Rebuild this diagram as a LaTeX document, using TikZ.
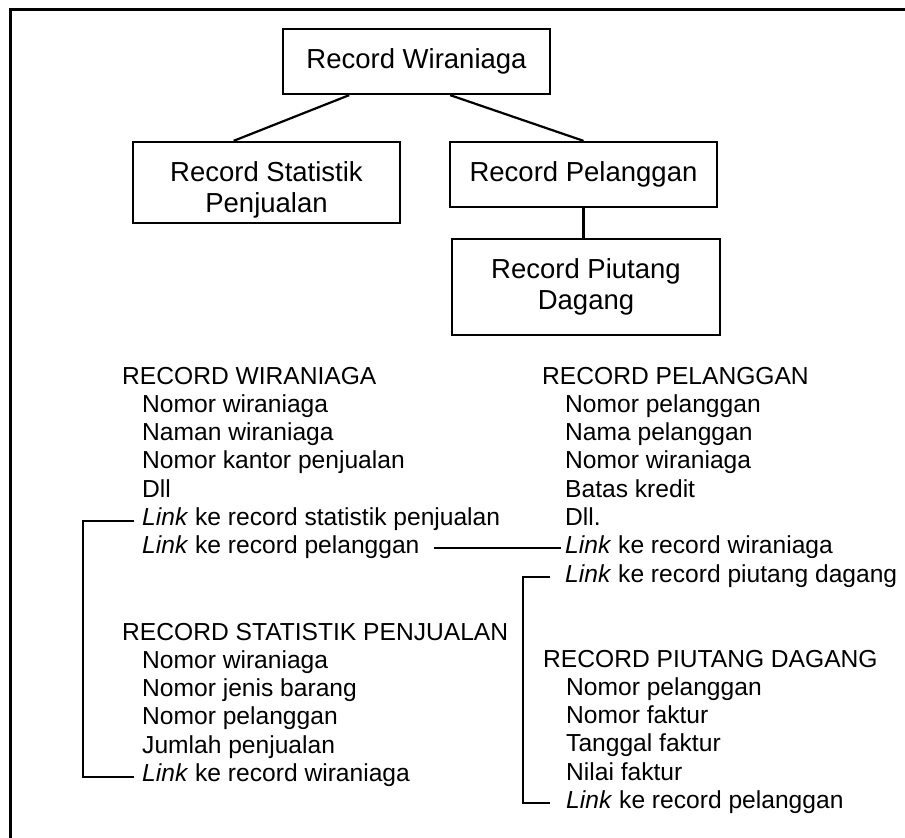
\documentclass[tikz,border=0pt]{standalone}
\usepackage{fontspec}
\setmainfont{Liberation Sans}
\usetikzlibrary{calc}
\begin{document}
\begin{tikzpicture}[x=1pt,y=-1pt,
  box/.style={draw, line width=2.3pt, inner sep=0pt, align=center,
    font=\fontsize{27.5}{31}\selectfont},
  tree/.style={line width=2.2pt},
  field/.style={anchor=base west, inner sep=0pt,
    font=\fontsize{24.6}{28}\selectfont},
  link/.style={line width=2.2pt}]
\useasboundingbox (0,0) rectangle (905,838);
% outer frame
\draw[line width=3pt] (10.5,838) -- (10.5,9.5) -- (905,9.5);

% hierarchy of records
\node[box, minimum width=267pt, minimum height=65pt] (rw) at (416.5,61.5) {Record Wiraniaga};
\node[box, minimum width=267pt, minimum height=81pt] (rs) at (266.5,182.5) {\rule{0pt}{34pt}Record Statistik\\Penjualan};
\node[box, minimum width=267pt, minimum height=65pt] (rp) at (583.5,174.5) {Record Pelanggan};
\node[box, minimum width=268pt, minimum height=96pt] (rd) at (586,287) {Record Piutang\\Dagang};

\draw[tree] ($(rw.south west)!0.25!(rw.south east)$) -- ($(rs.north west)!0.378!(rs.north east)$);
\draw[tree] ($(rw.south west)!0.625!(rw.south east)$) -- (rp.north);
\draw[tree] (rp.south) -- (rp.south |- rd.north);

% record layouts
\foreach \t [count=\i from 0] in {RECORD WIRANIAGA, Nomor wiraniaga, Naman wiraniaga,
    Nomor kantor penjualan, Dll, {\textit{Link} ke record statistik penjualan},
    {\textit{Link} ke record pelanggan}}
  \node[field] (w\i) at ({\i==0 ? 122 : 142}, 384+\i*28.33) {\t};

\foreach \t [count=\i from 0] in {RECORD PELANGGAN, Nomor pelanggan, Nama pelanggan,
    Nomor wiraniaga, Batas kredit, Dll., {\textit{Link} ke record wiraniaga},
    {\textit{Link} ke record piutang dagang}}
  \node[field] (p\i) at ({\i==0 ? 542 : 565}, 384+\i*28.33) {\t};

\foreach \t [count=\i from 0] in {RECORD STATISTIK PENJUALAN, Nomor wiraniaga,
    Nomor jenis barang, Nomor pelanggan, Jumlah penjualan,
    {\textit{Link} ke record wiraniaga}}
  \node[field] (s\i) at ({\i==0 ? 122 : 142}, 640+\i*28.33) {\t};

\foreach \t [count=\i from 0] in {RECORD PIUTANG DAGANG, Nomor pelanggan, Nomor faktur,
    Tanggal faktur, Nilai faktur, {\textit{Link} ke record pelanggan}}
  \node[field] (d\i) at ({\i==0 ? 543 : 566}, 667+\i*28.33) {\t};

% links between records
\draw[link] ($(w5.base west)+(-8,-5)$) -- ++(-51,0) |- ($(s5.base west)+(-8,-5)$);
\draw[link] ($(w6.base east)+(14,-6)$) -- ($(p6.base west)+(-4,-6)$);
\draw[link] ($(p7.base west)+(-15,-5)$) -- ++(-27,0) |- ($(d5.base west)+(-16,-6)$);
\end{tikzpicture}
\end{document}
